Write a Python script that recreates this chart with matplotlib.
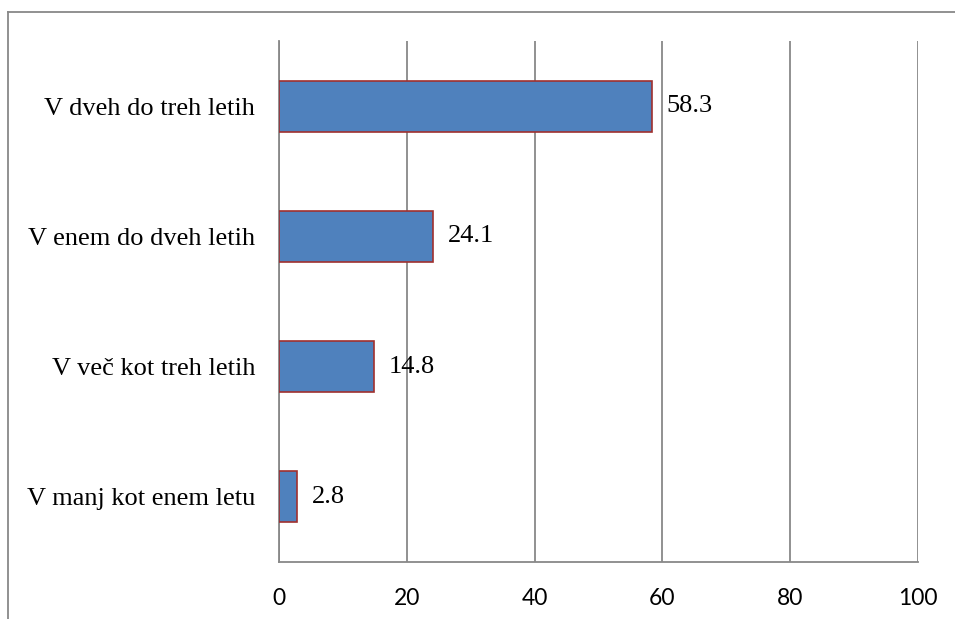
import matplotlib.pyplot as plt
from matplotlib.lines import Line2D

# podatki
categories = ['V manj kot enem letu', 'V več kot treh letih',
              'V enem do dveh letih', 'V dveh do treh letih']
values = [2.8, 14.8, 24.1, 58.3]
xticks = [0, 20, 40, 60, 80, 100]

fig = plt.figure(figsize=(9.55, 6.19), dpi=100)
ax = fig.add_axes([0.2921, 0.0921, 0.6692, 0.8417])

bars = ax.barh(range(len(categories)), values, height=0.39,
               color='#4F81BD', edgecolor='#A0302F', linewidth=1.2, zorder=3)

for b, v in zip(bars, values):
    ax.annotate(f'{v:.1f}', (b.get_width(), b.get_y() + b.get_height() / 2),
                xytext=(11, 0), textcoords='offset points', va='center',
                ha='left', fontsize=19, family='Liberation Serif')

ax.set_xlim(0, 100)
ax.set_ylim(-0.5, len(categories) - 0.5)
ax.set_xticks(xticks)
ax.set_xticklabels([str(t) for t in xticks], family='Lato', fontsize=16.5)
ax.set_yticks(range(len(categories)))
ax.set_yticklabels(categories, family='Liberation Serif', fontsize=19)

ax.xaxis.grid(True, color='#888888', linewidth=1.3, zorder=0)
ax.tick_params(axis='both', length=0)
ax.tick_params(axis='x', pad=19)
ax.tick_params(axis='y', pad=17)
for s in ['top', 'right']:
    ax.spines[s].set_visible(False)
for s in ['left', 'bottom']:
    ax.spines[s].set_color('#888888')
    ax.spines[s].set_linewidth(1.3)

# okvir grafa (odrezan)
fig.add_artist(Line2D([8 / 955, 1], [1 - 12 / 619, 1 - 12 / 619],
                      color='#888888', linewidth=1.3))
fig.add_artist(Line2D([8 / 955, 8 / 955], [0, 1 - 12 / 619],
                      color='#888888', linewidth=1.3))

plt.savefig('out.png', dpi=100)
